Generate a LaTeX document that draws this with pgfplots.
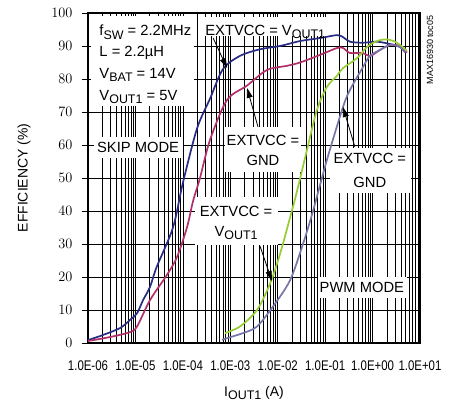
\documentclass[border=0pt]{standalone}
\usepackage{pgfplots}
\pgfplotsset{compat=1.18}
\usepackage{fontspec}
\setmainfont{Liberation Sans}
\usetikzlibrary{arrows.meta}

\definecolor{navy}{RGB}{40,44,130}
\definecolor{plum}{RGB}{176,48,106}
\definecolor{lime}{RGB}{150,205,50}
\definecolor{slate}{RGB}{118,118,170}

\newcommand\xt[1]{\scalebox{0.82}[1]{#1}}
\newcommand\sub[1]{\raisebox{-0.22em}{\fontsize{12.5}{12.5}\selectfont #1}}
\newcommand\ann{\fontsize{14.8}{16}\selectfont}

\begin{document}
\begin{tikzpicture}
\begin{axis}[
  at={(0,0)}, anchor=south west,
  scale only axis, width=332bp, height=330bp,
  xmode=log, xmin=1e-6, xmax=1e1, ymin=0, ymax=100,
  clip=false,
  xtick={1e-6,1e-5,1e-4,1e-3,1e-2,1e-1,1e0,1e1},
  xticklabels={\xt{1.0E-06},\xt{1.0E-05},\xt{1.0E-04},\xt{1.0E-03},\xt{1.0E-02},\xt{1.0E-01},\xt{1.0E+00},\xt{1.0E+01}},
  ytick={0,10,...,100},
  grid=both,
  major grid style={black, line width=0.6bp},
  minor grid style={black, line width=0.6bp},
  axis line style={black, line width=2.5bp},
  xtick style={draw=none},
  ytick style={black, line width=0.6bp},
  ytick pos=left, tick align=outside, major tick length=6bp,
  yticklabel style={font=\fontsize{14}{14}\selectfont, xshift=-6bp},
  xticklabel style={font=\fontsize{14}{14}\selectfont, yshift=-8bp},
  xlabel={I\sub{OUT1} (A)},
  ylabel={EFFICIENCY (\%)},
  label style={font=\fontsize{14}{14}\selectfont},
  xlabel style={at={(axis description cs:0.5,-0.152)}, anchor=center},
  ylabel style={at={(axis description cs:-0.193,0.5)}, anchor=center},
]
\coordinate (bl) at (rel axis cs:0,0);
% white label boxes over the grid
\fill[white] (rel axis cs:0.008,0.99) rectangle (rel axis cs:0.319,0.718);
\fill[white] (rel axis cs:0.018,0.624) rectangle (rel axis cs:0.286,0.561);
\fill[white] (rel axis cs:0.340,0.988) rectangle (rel axis cs:0.723,0.930);
\fill[white] (rel axis cs:0.413,0.655) rectangle (rel axis cs:0.642,0.518);
\fill[white] (rel axis cs:0.729,0.591) rectangle (rel axis cs:0.973,0.455);
\fill[white] (rel axis cs:0.322,0.442) rectangle (rel axis cs:0.572,0.297);
\fill[white] (rel axis cs:0.693,0.200) rectangle (rel axis cs:0.961,0.136);

% skip mode, EXTVCC = VOUT1
\addplot[navy, line width=1.7bp, smooth] coordinates {
(1e-6,0.9) (1.79e-6,2.1) (4.7e-6,4.5) (7.7e-6,7) (1.08e-5,9) (1.45e-5,13)
(2.03e-5,17) (2.8e-5,23) (6.2e-5,35) (1.0e-4,48.5) (1.99e-4,65) (3.73e-4,74)
(7.0e-4,83) (1.6e-3,87) (4.2e-3,89) (1.12e-2,90) (2.95e-2,91.5) (7.8e-2,92.4)
(0.178,93.3) (0.238,92.7) (0.334,91.3) (0.628,91) (1.24,91.3) (2.33,90.6)
(3.78,89.7) (5.0,88)
};
% skip mode, EXTVCC = GND
\addplot[plum, line width=1.7bp, smooth] coordinates {
(1e-6,0.6) (2.9e-6,1.8) (7.7e-6,3.3) (1.08e-5,5) (2.03e-5,13) (4.6e-5,20.6)
(7.5e-5,26) (1.22e-4,35) (1.64e-4,43) (2.3e-4,50) (3.73e-4,61.5) (8.5e-4,73.6)
(2.25e-3,78) (5.9e-3,82.7) (1.57e-2,84) (2.95e-2,85) (7.8e-2,87.3) (0.178,89.4)
(0.238,89.4) (0.334,87.9) (0.628,87.9) (0.88,86.9) (1.43,88.8) (2.33,90.3)
(3.78,90) (5.3,88)
};
% PWM mode, EXTVCC = VOUT1
\addplot[lime, line width=1.7bp, smooth] coordinates {
(7.7e-4,3) (1.6e-3,5) (3.66e-3,10) (6.9e-3,18) (1.12e-2,27) (1.82e-2,38)
(2.55e-2,46) (4.14e-2,58.5) (6.7e-2,70.6) (0.109,77.6) (0.178,81) (0.238,83.3)
(0.469,86.3) (0.762,89.7) (1.24,91.5) (2.01,92) (3.27,91) (5.3,88.5)
};
% PWM mode, EXTVCC = GND
\addplot[slate, line width=1.7bp, smooth] coordinates {
(6.7e-4,1) (1.85e-3,3) (3.66e-3,5) (7.9e-3,11) (1.82e-2,19) (3.41e-2,30)
(5.55e-2,40) (0.109,55.5) (0.238,71.5) (0.334,76.7) (0.628,83.6) (0.88,87)
(1.43,88.8) (2.33,90.3) (3.78,89.7) (4.83,88)
};

% text
\node[anchor=west, font=\ann] at (rel axis cs:0.024,0.942) {f\sub{SW} = 2.2MHz};
\node[anchor=west, font=\ann] at (rel axis cs:0.024,0.879) {L = 2.2µH};
\node[anchor=west, font=\ann] at (rel axis cs:0.024,0.812) {V\sub{BAT} = 14V};
\node[anchor=west, font=\ann] at (rel axis cs:0.024,0.745) {V\sub{OUT1} = 5V};
\node[font=\ann] at (rel axis cs:0.151,0.594) {SKIP MODE};
\node[anchor=base west, font=\ann] at (rel axis cs:0.343,0.933) {EXTVCC = V\sub{OUT1}};
\node[font=\ann] at (rel axis cs:0.527,0.615) {EXTVCC =};
\node[font=\ann] at (rel axis cs:0.527,0.552) {GND};
\node[font=\ann] at (rel axis cs:0.849,0.558) {EXTVCC =};
\node[font=\ann] at (rel axis cs:0.849,0.488) {GND};
\node[font=\ann] at (rel axis cs:0.446,0.400) {EXTVCC =};
\node[font=\ann] at (rel axis cs:0.446,0.333) {V\sub{OUT1}};
\node[font=\ann] at (rel axis cs:0.825,0.167) {PWM MODE};
\node[rotate=90, font=\fontsize{9}{9}\selectfont] at (rel axis cs:1.030,0.888) {MAX16930 toc05};

% arrows
\begin{scope}[line width=0.8bp, -{Triangle[length=10bp,width=6bp]}]
\draw (rel axis cs:0.377,0.924) -- (rel axis cs:0.419,0.833);
\draw (rel axis cs:0.512,0.655) -- (rel axis cs:0.479,0.773);
\draw (rel axis cs:0.804,0.594) -- (rel axis cs:0.768,0.715);
\draw (rel axis cs:0.518,0.294) -- (rel axis cs:0.554,0.188);
\end{scope}
\end{axis}
\pgfresetboundingbox
\path[use as bounding box] (bl) ++(-88bp,-64bp) rectangle ++(455bp,407bp);
\end{tikzpicture}
\end{document}
